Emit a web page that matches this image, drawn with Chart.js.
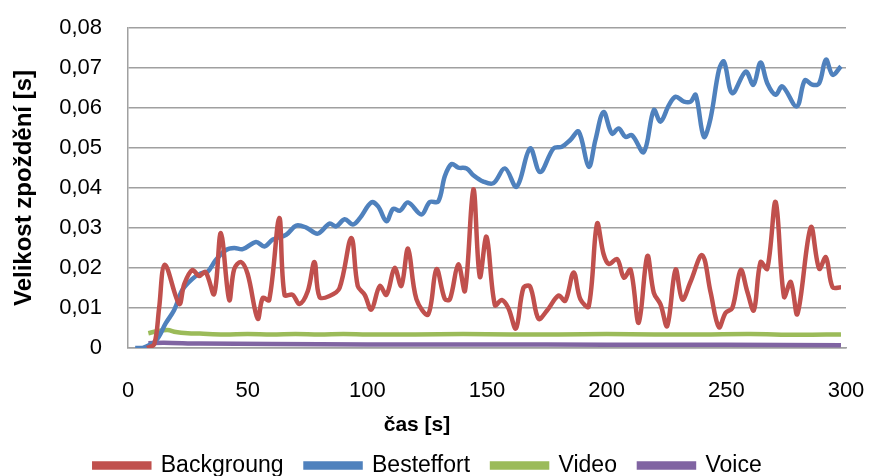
<!DOCTYPE html>
<html>
<head>
<meta charset="utf-8">
<script src="https://cdn.jsdelivr.net/npm/chart.js@4"></script>
<style>
  html, body { margin: 0; padding: 0; background: #fff; overflow: hidden; }
  #wrap { width: 869px; height: 487px; position: relative; }
</style>
</head>
<body>
<div id="wrap"><canvas id="myChart"></canvas></div>
<script>
// values (time in s, delay in s)
var bgTime = [8, 11, 13, 15.4, 21.4, 23.5, 26.9, 29.7, 32.4, 36, 38.8, 42.3, 44.4, 47.2, 50, 54.2, 56.3, 59, 63.2, 65.4,
  68.8, 71.6, 75.1, 77.9, 80, 84.2, 88.4, 93.3, 96, 98.9, 101.7, 105.2, 108, 111.4, 114.2, 117, 120.5, 125.4, 128.9, 132.4,
  134.5, 138, 140.8, 144.3, 147, 149.8, 153.3, 156.2, 158.9, 162.1, 165.2, 168, 171.5, 175, 179.9, 182.7, 186.2, 189, 192.5, 196,
  198.7, 200.9, 204.4, 207.2, 210, 213.4, 217, 219.7, 222.5, 225.3, 228.8, 231.6, 235, 239.9, 243.4, 246.9, 249.7, 252.5, 256, 258.8,
  261.5, 264.3, 267.1, 270.6, 274.1, 276.9, 279.7, 285.3, 288.8, 291.6, 294.4, 297.9];
var bgDelay = [0, 0.001, 0.010, 0.0208, 0.011, 0.016, 0.0195, 0.018, 0.019, 0.0135, 0.0287, 0.012, 0.0198, 0.0215, 0.0185, 0.0073, 0.0125, 0.012, 0.0325, 0.0133,
  0.0133, 0.011, 0.0142, 0.0215, 0.0128, 0.013, 0.015, 0.0275, 0.0155, 0.0133, 0.0096, 0.0155, 0.0133, 0.020, 0.0155, 0.0248, 0.0122, 0.0084, 0.0197, 0.0122,
  0.0122, 0.0209, 0.0143, 0.0397, 0.0178, 0.0278, 0.0107, 0.012, 0.010, 0.0049, 0.015, 0.0154, 0.0073, 0.0093, 0.0131, 0.0118, 0.0189, 0.0122, 0.0104, 0.0311,
  0.0235, 0.021, 0.0222, 0.0176, 0.0196, 0.0063, 0.023, 0.0138, 0.0109, 0.0055, 0.0196, 0.0121, 0.0165, 0.0232, 0.014, 0.0052, 0.0088, 0.010, 0.0195, 0.014,
  0.0094, 0.0215, 0.0198, 0.0365, 0.0128, 0.0165, 0.0085, 0.0302, 0.0198, 0.0227, 0.0152, 0.0152];

var beTime = [3, 6, 11.6, 15.8, 19.3, 22.7, 26.9, 30.5, 33.2, 36.7, 40.9, 44.4, 47.9, 53.5, 57, 60.5, 66.1, 70.3, 74.5, 79.3,
  84.2, 87, 90.5, 94, 96.8, 101.7, 104.5, 108, 110.8, 113.6, 117, 122.6, 126.1, 129.6, 132.4, 135.2, 138, 141.5, 144.3, 148.5,
  152.7, 157.5, 162.4, 168, 172.2, 177.8, 181.3, 184.8, 188.3, 192.5, 195.3, 198.7, 202.2, 205, 207.8, 210.6, 215.5, 219.7, 222.5, 226,
  228.8, 232.3, 235.1, 237.2, 240.6, 243.4, 246.9, 249, 252.5, 258.1, 261.3, 264.3, 267.1, 270.6, 273.4, 279.4, 282.8, 286, 288.8, 291.6,
  294.4, 297.9];
var beDelay = [0, 0, 0.0018, 0.0062, 0.0095, 0.0145, 0.0173, 0.0187, 0.019, 0.022, 0.0245, 0.025, 0.0247, 0.0265, 0.0254, 0.0271, 0.0283, 0.0306, 0.0301, 0.0286,
  0.0311, 0.0304, 0.0322, 0.0309, 0.0324, 0.0364, 0.0354, 0.0317, 0.0348, 0.0343, 0.0364, 0.0334, 0.0365, 0.0366, 0.043, 0.046, 0.0451, 0.0449, 0.0432, 0.0416,
  0.0412, 0.0449, 0.0403, 0.0499, 0.044, 0.0499, 0.0503, 0.052, 0.0541, 0.0453, 0.052, 0.059, 0.0536, 0.0549, 0.0528, 0.0532, 0.049, 0.0595, 0.0566, 0.0607,
  0.0628, 0.0616, 0.0616, 0.0633, 0.0528, 0.0574, 0.0695, 0.0716, 0.0637, 0.0691, 0.0658, 0.0714, 0.0662, 0.0633, 0.0654, 0.0604, 0.0669, 0.0658, 0.0662, 0.0721,
  0.0683, 0.0704];

var vidTime = [8.5, 12, 16.5, 20, 25, 30, 40, 50, 60, 70, 80, 90, 100, 120, 140, 160, 180, 200, 220, 240, 260, 280, 297.9];
var vidDelay = [0.0037, 0.0042, 0.0045, 0.004, 0.0037, 0.0036, 0.0034, 0.0035, 0.0034, 0.0035, 0.0034, 0.0035, 0.0034, 0.0034, 0.0035, 0.0034, 0.0034, 0.0035, 0.0034, 0.0034, 0.0035, 0.0033, 0.0034];

var voiTime = [8.5, 15, 30, 60, 100, 150, 200, 250, 297.9];
var voiDelay = [0.0012, 0.0013, 0.0011, 0.001, 0.0009, 0.0009, 0.0008, 0.0008, 0.0007];

var names = ['Backgroung', 'Besteffort', 'Video', 'Voice'];
var colors = ['#C0504D', '#4F81BD', '#9BBB59', '#8064A2'];
var xTicks = [0, 50, 100, 150, 200, 250, 300];
var yTicks = [0, 0.01, 0.02, 0.03, 0.04, 0.05, 0.06, 0.07, 0.08];

function pts(t, v) {
  return t.map(function(x, i) { return {x: x, y: v[i]}; });
}

var series = [pts(bgTime, bgDelay), pts(beTime, beDelay), pts(vidTime, vidDelay), pts(voiTime, voiDelay)];
var font = 'Liberation Sans, Arial, sans-serif';
// the x title sits left of the plot centre in the original, trailing spaces push it there
var xTitle = 'čas [s]' + '\u00a0'.repeat(24);

let ctx = document.getElementById('myChart').getContext('2d');
new Chart(ctx, {
  type: 'line',
  data: {
    datasets: series.map(function(d, i) {
      return {
        label: names[i],
        data: d,
        borderColor: colors[i],
        backgroundColor: colors[i],
        borderWidth: 4.5,
        pointRadius: 0,
        tension: 0.35,
        fill: false
      };
    })
  },
  options: {
    responsive: true,
    maintainAspectRatio: false,
    animation: false,
    layout: { padding: { left: 10, right: 23, top: 28, bottom: 0 } },
    plugins: {
      tooltip: { enabled: false },
      legend: {
        position: 'bottom',
        labels: {
          color: '#000',
          font: { family: font, size: 23 },
          boxWidth: 55,
          boxHeight: 4,
          padding: 22
        }
      }
    },
    scales: {
      x: {
        type: 'linear',
        min: 0,
        max: 300,
        afterBuildTicks: function(axis) { axis.ticks = xTicks.map(function(v) { return {value: v}; }); },
        afterFit: function(axis) { axis.height = 84; axis.paddingLeft = 0; axis.paddingRight = 0; },
        grid: { display: false, drawTicks: false },
        border: { display: true, color: '#a0a0a0', width: 1.5 },
        ticks: { color: '#000', font: { family: font, size: 22 }, padding: 30, maxRotation: 0 },
        title: { display: true, text: xTitle, color: '#000', font: { family: font, size: 21, weight: 'bold' }, padding: { top: 0, bottom: -6 } }
      },
      y: {
        min: 0,
        max: 0.08,
        afterBuildTicks: function(axis) { axis.ticks = yTicks.map(function(v) { return {value: v}; }); },
        afterFit: function(axis) { axis.width = 118; axis.paddingTop = 0; axis.paddingBottom = 0; },
        grid: { color: '#a0a0a0', lineWidth: 1.5, drawTicks: false },
        border: { display: true, color: '#a0a0a0', width: 1.5 },
        ticks: {
          color: '#000',
          font: { family: font, size: 22 },
          padding: 26,
          callback: function(v) { return v === 0 ? '0' : v.toFixed(2).replace('.', ','); }
        },
        title: { display: true, text: 'Velikost zpoždění [s]', color: '#000', font: { family: font, size: 24, weight: 'bold' }, padding: { top: 0, bottom: 0 } }
      }
    }
  }
});
</script>
</body>
</html>
